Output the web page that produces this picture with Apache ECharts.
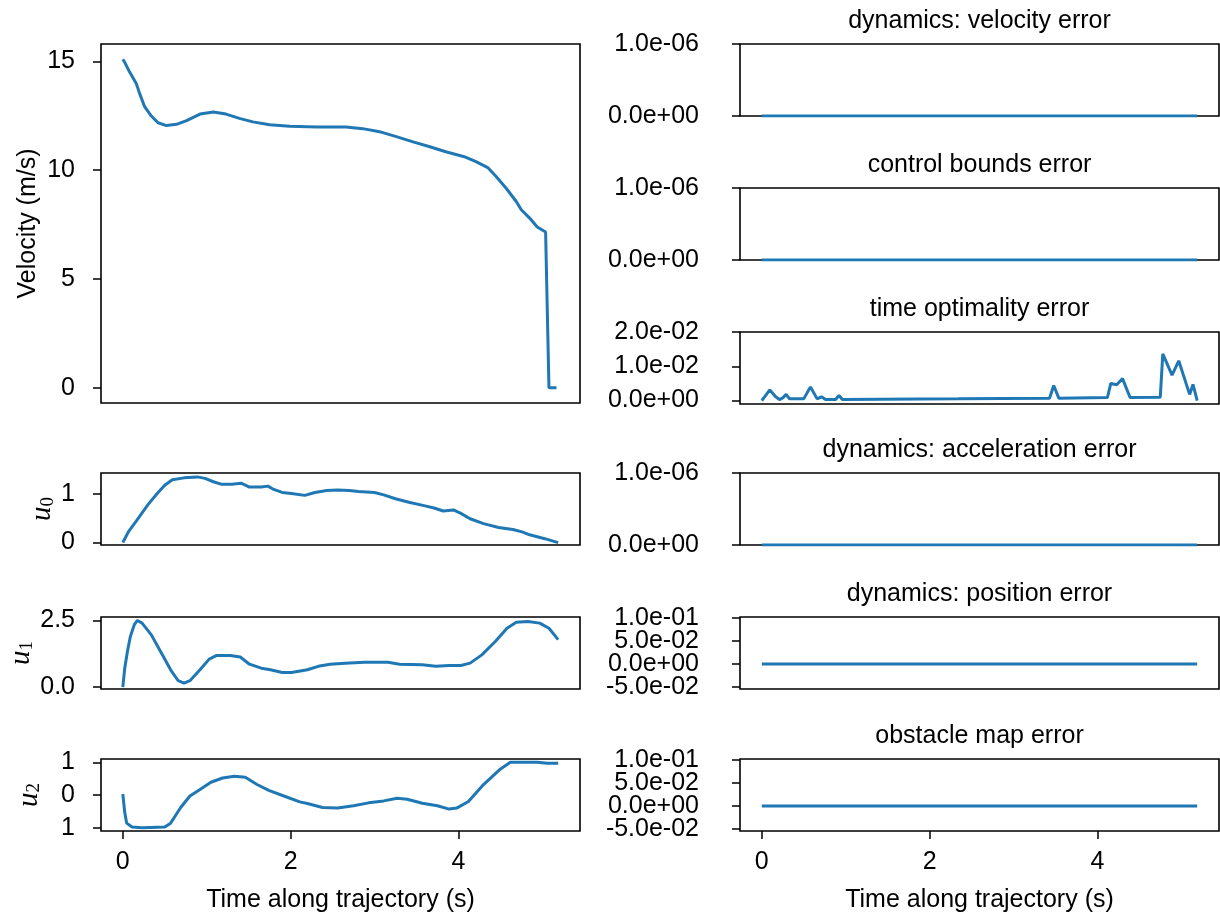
<!DOCTYPE html>
<html>
<head>
<meta charset="utf-8">
<script src="https://cdn.jsdelivr.net/npm/echarts@6/dist/echarts.min.js"></script>
<style>
  html, body { margin: 0; padding: 0; background: #fff; }
  #chart { width: 1220px; height: 916px; }
</style>
</head>
<body>
<div id="chart"></div>
<script>
// ---- trajectory data (time in seconds) ----
const tVel = [0, 0.02, 0.08, 0.16, 0.2, 0.26, 0.34, 0.42, 0.52, 0.64, 0.76, 0.92, 1.08, 1.23, 1.39, 1.55, 1.75, 1.99, 2.31, 2.66, 2.86, 3.06, 3.26, 3.46, 3.66, 3.85, 4.07, 4.21, 4.35, 4.45, 4.57, 4.69, 4.75, 4.85, 4.94, 5.04, 5.08, 5.17];
const velocity = [15.09, 14.98, 14.52, 13.99, 13.53, 12.92, 12.49, 12.18, 12.05, 12.11, 12.28, 12.58, 12.67, 12.58, 12.38, 12.22, 12.09, 12.02, 11.99, 11.99, 11.91, 11.77, 11.54, 11.30, 11.08, 10.85, 10.62, 10.39, 10.12, 9.71, 9.17, 8.56, 8.18, 7.80, 7.39, 7.16, 0, 0];

const tU0 = [0, 0.07, 0.16, 0.30, 0.41, 0.50, 0.59, 0.73, 0.89, 0.98, 1.08, 1.17, 1.30, 1.41, 1.51, 1.65, 1.73, 1.79, 1.90, 2.01, 2.17, 2.29, 2.43, 2.56, 2.70, 2.81, 3.00, 3.11, 3.25, 3.41, 3.59, 3.71, 3.82, 3.94, 4.03, 4.14, 4.30, 4.48, 4.65, 4.76, 4.85, 5.03, 5.19];
const u0 = [0, 0.23, 0.44, 0.78, 1.01, 1.18, 1.29, 1.33, 1.35, 1.32, 1.25, 1.20, 1.20, 1.22, 1.14, 1.14, 1.16, 1.10, 1.03, 1.01, 0.97, 1.03, 1.07, 1.08, 1.07, 1.05, 1.03, 0.98, 0.90, 0.83, 0.76, 0.71, 0.65, 0.67, 0.60, 0.49, 0.39, 0.31, 0.27, 0.22, 0.16, 0.08, 0];

const tU1 = [0, 0.023, 0.055, 0.09, 0.137, 0.174, 0.23, 0.34, 0.46, 0.57, 0.66, 0.73, 0.80, 0.92, 1.03, 1.12, 1.28, 1.40, 1.51, 1.65, 1.76, 1.90, 2.01, 2.20, 2.33, 2.47, 2.65, 2.88, 3.16, 3.30, 3.57, 3.73, 3.89, 4.03, 4.14, 4.28, 4.44, 4.58, 4.69, 4.83, 4.97, 5.08, 5.19];
const u1 = [0, 0.71, 1.34, 1.90, 2.34, 2.50, 2.40, 1.96, 1.28, 0.65, 0.24, 0.15, 0.24, 0.65, 1.05, 1.19, 1.19, 1.13, 0.86, 0.71, 0.65, 0.55, 0.55, 0.65, 0.78, 0.86, 0.90, 0.93, 0.93, 0.86, 0.84, 0.78, 0.81, 0.81, 0.90, 1.21, 1.71, 2.21, 2.43, 2.46, 2.40, 2.21, 1.78];

const tU2 = [0, 0.023, 0.046, 0.11, 0.23, 0.50, 0.57, 0.69, 0.80, 0.92, 1.05, 1.19, 1.33, 1.46, 1.60, 1.74, 1.92, 2.11, 2.20, 2.38, 2.56, 2.75, 2.93, 3.11, 3.27, 3.39, 3.57, 3.75, 3.89, 3.98, 4.12, 4.30, 4.49, 4.62, 4.94, 5.06, 5.19];
const u2 = [0.03, -0.53, -0.86, -0.98, -1.0, -0.98, -0.86, -0.38, -0.03, 0.17, 0.39, 0.52, 0.57, 0.54, 0.32, 0.14, -0.03, -0.21, -0.26, -0.38, -0.40, -0.33, -0.24, -0.18, -0.10, -0.13, -0.25, -0.33, -0.43, -0.40, -0.20, 0.32, 0.77, 1.0, 1.0, 0.97, 0.97];

const tOpt = [0, 0.095, 0.166, 0.21, 0.25, 0.29, 0.33, 0.50, 0.58, 0.66, 0.71, 0.76, 0.88, 0.92, 0.96, 1.4, 2.34, 3.43, 3.48, 3.54, 4.12, 4.16, 4.23, 4.30, 4.39, 4.75, 4.78, 4.89, 4.97, 5.10, 5.14, 5.19];
const timeOptErr = [0.0, 0.0031, 0.0011, 0.0003, 0.0008, 0.0018, 0.0005, 0.0005, 0.0040, 0.0005, 0.0011, 0.0003, 0.0003, 0.0015, 0.0003, 0.0004, 0.0005, 0.0007, 0.0044, 0.0007, 0.0009, 0.0050, 0.0046, 0.0064, 0.0009, 0.0010, 0.0136, 0.0074, 0.0116, 0.0018, 0.0047, 0];

// constraint errors that stay at zero along the whole trajectory
const tErr = [0, 5.19];
const velErr = [0, 0];
const boundsErr = [0, 0];
const accErr = [0, 0];
const posErr = [0, 0];
const obstacleErr = [0, 0];

// ---- tick values and texts ----
const timeTicks = [0, 2, 4];
const velTicks = [0, 5, 10, 15];
const u0Ticks = [0, 1];
const u1Ticks = [0, 2.5];
const u2Ticks = [-1, 0, 1];
const u2TickText = ['1', '0', '1'];
const tinyErrTicks = [0, 1e-6];
const optTicks = [0, 0.01, 0.02];
// the tightly spaced error ticks are split over two overlaid left axes
const smallErrTicksA = [0, 0.1];
const smallErrTicksB = [-0.05, 0.05];

const titles = ['dynamics: velocity error', 'control bounds error', 'time optimality error',
                'dynamics: acceleration error', 'dynamics: position error', 'obstacle map error'];

// ---- styling ----
const FONT = 'Liberation Sans';
const MATH = 'Liberation Serif';
const BLUE = '#1f77b4';
const FS = 25;

function sci(v) {
  const s = Number(v).toExponential(1);
  return s.replace(/e([+-])(\d+)$/, (m, sg, d) => 'e' + sg + d.padStart(2, '0'));
}
function oneDec(v) { return Number(v).toFixed(1); }
function plain(v) { return String(v); }

const LEFT_X = 101, RIGHT_X = 740, COL_W = 479, ROW_H = 72;
const rowTop = [44, 188, 332, 473, 617, 759];

const panels = [
  { box: [LEFT_X, rowTop[0], COL_W, 403 - rowTop[0]], t: tVel, y: velocity, min: -0.7, max: 15.8, ticks: velTicks, fmt: plain,
    name: 'Velocity (m/s)', nameGap: 60, margin: 26 },
  { box: [LEFT_X, rowTop[3], COL_W, ROW_H], t: tU0, y: u0, min: -0.05, max: 1.43, ticks: u0Ticks, fmt: plain,
    name: '{u|u}{s|0}', nameGap: 34, margin: 26 },
  { box: [LEFT_X, rowTop[4], COL_W, ROW_H], t: tU1, y: u1, min: -0.07, max: 2.63, ticks: u1Ticks, fmt: oneDec,
    name: '{u|u}{s|1}', nameGap: 60, margin: 26 },
  { box: [LEFT_X, rowTop[5], COL_W, ROW_H], t: tU2, y: u2, min: -1.1, max: 1.1, ticks: u2Ticks,
    fmt: v => u2TickText[u2Ticks.indexOf(v)], name: '{u|u}{s|2}', nameGap: 57, margin: 26, bottom: true },
  { box: [RIGHT_X, rowTop[0], COL_W, ROW_H], t: tErr, y: velErr, min: 0, max: 1e-6, ticks: tinyErrTicks, fmt: sci,
    title: titles[0], margin: 41 },
  { box: [RIGHT_X, rowTop[1], COL_W, ROW_H], t: tErr, y: boundsErr, min: 0, max: 1e-6, ticks: tinyErrTicks, fmt: sci,
    title: titles[1], margin: 41 },
  { box: [RIGHT_X, rowTop[2], COL_W, ROW_H], t: tOpt, y: timeOptErr, min: -0.001, max: 0.02, ticks: optTicks, fmt: sci,
    title: titles[2], margin: 41 },
  { box: [RIGHT_X, rowTop[3], COL_W, ROW_H], t: tErr, y: accErr, min: 0, max: 1e-6, ticks: tinyErrTicks, fmt: sci,
    title: titles[3], margin: 41 },
  { box: [RIGHT_X, rowTop[4], COL_W, ROW_H], t: tErr, y: posErr, min: -0.054, max: 0.102, ticks: smallErrTicksA,
    ticks2: smallErrTicksB, fmt: sci, title: titles[4], margin: 41 },
  { box: [RIGHT_X, rowTop[5], COL_W, ROW_H], t: tErr, y: obstacleErr, min: -0.054, max: 0.102, ticks: smallErrTicksA,
    ticks2: smallErrTicksB, fmt: sci, title: titles[5], margin: 41, bottom: true }
];

const grid = [], xAxis = [], yAxis = [], series = [], title = [];
const tickStyle = { show: true, inside: false, length: 8, lineStyle: { color: '#000', width: 1.5 } };

function makeY(p, i, ticks, withName) {
  return {
    type: 'value', gridIndex: i, min: p.min, max: p.max, position: 'left',
    axisLine: { show: false, onZero: false },
    splitLine: { show: false },
    axisTick: Object.assign({ customValues: ticks }, tickStyle),
    axisLabel: {
      customValues: ticks, formatter: p.fmt, margin: p.margin, showMinLabel: true, showMaxLabel: true,
      hideOverlap: false, padding: [5, 0, 0, 0], fontSize: FS, fontFamily: FONT, color: '#000'
    },
    name: withName ? (p.name || '') : '',
    nameLocation: 'middle', nameRotate: 90, nameGap: p.nameGap || 40,
    nameTextStyle: {
      fontSize: FS, fontFamily: FONT, color: '#000',
      rich: {
        u: { fontFamily: MATH, fontStyle: 'italic', fontSize: 29, lineHeight: 30, color: '#000' },
        s: { fontFamily: MATH, fontSize: 19, lineHeight: 16, verticalAlign: 'bottom', color: '#000' }
      }
    }
  };
}

panels.forEach((p, i) => {
  grid.push({
    left: p.box[0], top: p.box[1], width: p.box[2], height: p.box[3],
    show: true, borderColor: '#000', borderWidth: 1.6, backgroundColor: 'transparent', containLabel: false
  });
  xAxis.push({
    type: 'value', gridIndex: i, min: -0.26, max: 5.45, position: 'bottom',
    axisLine: { show: false, onZero: false },
    splitLine: { show: false },
    axisTick: p.bottom ? Object.assign({ customValues: timeTicks }, tickStyle) : { show: false },
    axisLabel: p.bottom ? { show: true, customValues: timeTicks, margin: 19, fontSize: FS, fontFamily: FONT, color: '#000' } : { show: false },
    name: p.bottom ? 'Time along trajectory (s)' : '',
    nameLocation: 'middle', nameGap: 57,
    nameTextStyle: { fontSize: FS, fontFamily: FONT, color: '#000' }
  });
  const yIndex = yAxis.length;
  yAxis.push(makeY(p, i, p.ticks, true));
  if (p.ticks2) yAxis.push(makeY(p, i, p.ticks2, false));
  series.push({
    type: 'line', xAxisIndex: i, yAxisIndex: yIndex,
    data: p.t.map((t, k) => [t, p.y[k]]),
    showSymbol: false, smooth: false, clip: true,
    lineStyle: { color: BLUE, width: 3 },
    emphasis: { disabled: true }, animation: false
  });
  if (p.title) {
    title.push({
      text: p.title, left: p.box[0] + p.box[2] / 2, top: p.box[1] - 35, textAlign: 'center', padding: 0,
      textStyle: { fontSize: FS, fontFamily: FONT, fontWeight: 'normal', color: '#000' }
    });
  }
});

const chart = echarts.init(document.getElementById('chart'), null, { renderer: 'canvas' });
chart.setOption({
  backgroundColor: '#fff',
  animation: false,
  title, grid, xAxis, yAxis, series
});
</script>
</body>
</html>
